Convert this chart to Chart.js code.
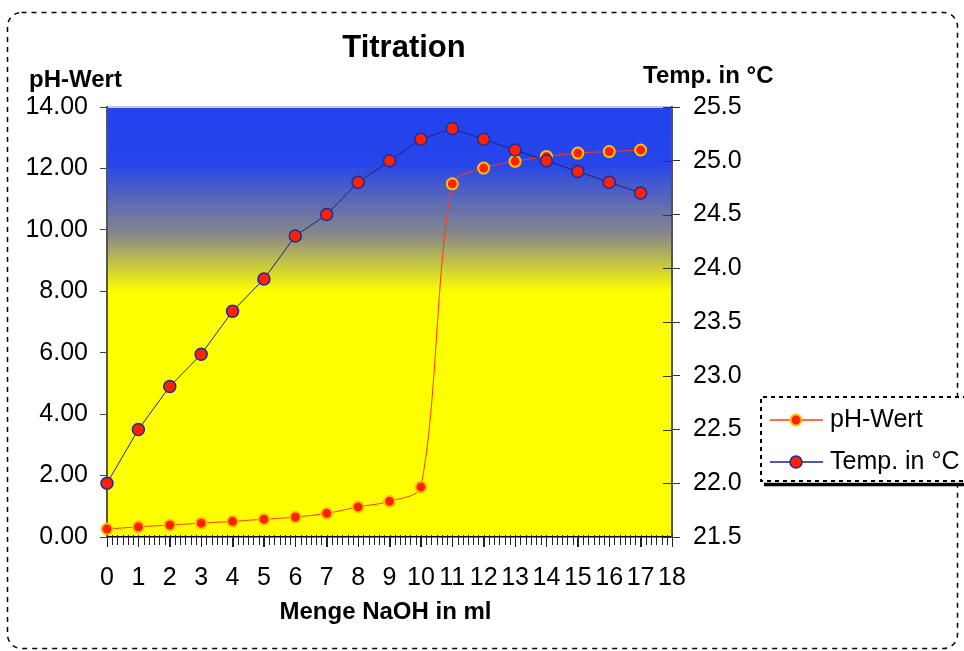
<!DOCTYPE html>
<html>
<head>
<meta charset="utf-8">
<title>Titration</title>
<script src="https://cdn.jsdelivr.net/npm/chart.js@4.4.0/dist/chart.umd.min.js"></script>
<style>
  html, body { margin: 0; padding: 0; background: #fff; }
  canvas { display: block; }
</style>
</head>
<body>
<canvas id="titrationChart" width="964" height="651" style="width:964px;height:651px"></canvas>
<script>
const mengeNaOH = [0, 1, 2, 3, 4, 5, 6, 7, 8, 9, 10, 11, 12, 13, 14, 15, 16, 17];
const phWerte = [0.26, 0.33, 0.39, 0.45, 0.51, 0.58, 0.65, 0.77, 0.98, 1.16, 1.63,
	11.50, 12.01, 12.23, 12.39, 12.50, 12.55, 12.60];
const tempWerte = [22.0, 22.5, 22.9, 23.2, 23.6, 23.9, 24.3, 24.5, 24.8, 25.0, 25.2,
	25.3, 25.2, 25.1, 25.0, 24.9, 24.8, 24.7];

const seriesNames = ["pH-Wert", "Temp. in °C"];
const xRange = [0, 18];
const phRange = [0, 14];
const tempRange = [21.5, 25.5];
const minorPerUnit = 6;

const FONT = '"Liberation Sans", Arial, sans-serif';

function toPoints(xs, ys) {
	return xs.map((x, i) => ({ x: x, y: ys[i] }));
}

// Hintergrund: Farbverlauf im Diagrammbereich und gestrichelter Rahmen
const backgroundPlugin = {
	id: "background",
	beforeDraw(chart) {
		const { ctx, chartArea: a } = chart;
		ctx.save();
		ctx.fillStyle = "#fff";
		ctx.fillRect(0, 0, chart.width, chart.height);

		const grad = ctx.createLinearGradient(0, a.top, 0, a.bottom);
		grad.addColorStop(0, "#2442ee");
		grad.addColorStop(0.13, "#2645ea");
		grad.addColorStop(0.3, "#8a8a86");
		grad.addColorStop(0.43, "#ffff00");
		grad.addColorStop(1, "#ffff00");
		ctx.fillStyle = grad;
		ctx.fillRect(a.left, a.top, a.right - a.left, a.bottom - a.top);

		// obere Kante
		ctx.strokeStyle = "#c8c8c8";
		ctx.lineWidth = 2;
		ctx.beginPath();
		ctx.moveTo(a.left, a.top);
		ctx.lineTo(a.right, a.top);
		ctx.stroke();

		// äußerer Rahmen
		ctx.strokeStyle = "#000";
		ctx.lineWidth = 1.5;
		ctx.setLineDash([5, 5]);
		ctx.beginPath();
		ctx.roundRect(7.5, 12.5, 950, 636, 14);
		ctx.stroke();
		ctx.restore();
	},
};

// Zusatz: Hilfsstriche, Achsentitel, Titel und Legende
const overlayPlugin = {
	id: "overlay",
	afterDraw(chart) {
		const { ctx, chartArea: a } = chart;
		const xs = chart.scales.x;
		const y2 = chart.scales.y2;
		ctx.save();

		// Hilfsstriche an der x-Achse
		ctx.strokeStyle = "#222";
		ctx.lineWidth = 1;
		for (let k = xRange[0] * minorPerUnit; k <= xRange[1] * minorPerUnit; k++) {
			const px = Math.round(xs.getPixelForValue(k / minorPerUnit)) + 0.5;
			ctx.beginPath();
			ctx.moveTo(px, a.bottom - 2);
			ctx.lineTo(px, a.bottom + (k % minorPerUnit === 0 ? 10 : 8));
			ctx.stroke();
		}

		// Striche der rechten Achse auch nach innen
		ctx.strokeStyle = "#333";
		y2.ticks.forEach((t) => {
			const py = Math.round(y2.getPixelForValue(t.value)) + 0.5;
			ctx.beginPath();
			ctx.moveTo(a.right - 9, py);
			ctx.lineTo(a.right, py);
			ctx.stroke();
		});

		// Texte
		ctx.fillStyle = "#000";
		ctx.textBaseline = "alphabetic";
		ctx.font = "bold 31px " + FONT;
		ctx.textAlign = "center";
		ctx.fillText("Titration", 404, 57);

		ctx.font = "bold 24px " + FONT;
		ctx.textAlign = "left";
		ctx.fillText(seriesNames[0], 29, 87);
		ctx.fillText(seriesNames[1], 643, 83);
		ctx.textAlign = "center";
		ctx.fillText("Menge NaOH in ml", (a.left + a.right) / 2 - 4, 619);

		// Legende
		const lx = 761, ly = 397, lb = 481;
		ctx.fillStyle = "#fff";
		ctx.fillRect(lx, ly, 220, lb - ly);
		ctx.strokeStyle = "#000";
		ctx.lineWidth = 2;
		ctx.setLineDash([4, 4]);
		ctx.beginPath();
		ctx.moveTo(975, ly);
		ctx.lineTo(lx, ly);
		ctx.lineTo(lx, lb);
		ctx.lineTo(975, lb);
		ctx.stroke();
		ctx.setLineDash([]);
		ctx.lineWidth = 3.5;
		ctx.beginPath();
		ctx.moveTo(764, lb + 3.5);
		ctx.lineTo(975, lb + 3.5);
		ctx.stroke();

		const rows = [420, 462];
		chart.data.datasets.forEach((ds, i) => {
			const ry = rows[i];
			ctx.strokeStyle = ds.borderColor;
			ctx.lineWidth = 1.5;
			ctx.beginPath();
			ctx.moveTo(770, ry);
			ctx.lineTo(823, ry);
			ctx.stroke();
			ctx.fillStyle = ds.pointBackgroundColor;
			ctx.strokeStyle = ds.pointBorderColor;
			ctx.lineWidth = ds.pointBorderWidth;
			ctx.beginPath();
			ctx.arc(796, ry, ds.pointRadius, 0, Math.PI * 2);
			ctx.fill();
			ctx.stroke();
			ctx.fillStyle = "#000";
			ctx.font = "25px " + FONT;
			ctx.textAlign = "left";
			ctx.textBaseline = "middle";
			ctx.fillText(ds.label, 830, ry);
		});
		ctx.restore();
	},
};

const tickFont = { family: FONT, size: 25 };

const ctx = document.getElementById("titrationChart").getContext("2d");
const titrationChart = new Chart(ctx, {
	type: "line",
	data: {
		datasets: [
			{
				label: seriesNames[0],
				data: toPoints(mengeNaOH, phWerte),
				yAxisID: "y",
				borderColor: "#ff3a10",
				borderWidth: 1,
				tension: 0.3,
				pointRadius: 5.5,
				pointBackgroundColor: "#ff2200",
				pointBorderColor: "#ffc400",
				pointBorderWidth: 2,
				clip: false,
				order: 1,
			},
			{
				label: seriesNames[1],
				data: toPoints(mengeNaOH, tempWerte),
				yAxisID: "y2",
				borderColor: "#1a2480",
				borderWidth: 1,
				tension: 0,
				pointRadius: 6,
				pointBackgroundColor: "#ff2200",
				pointBorderColor: "#1c2ca0",
				pointBorderWidth: 1.5,
				clip: false,
				order: 0,
			},
		],
	},
	options: {
		responsive: false,
		animation: false,
		devicePixelRatio: 1,
		layout: { padding: { top: 107, left: 0, right: 0, bottom: 0 } },
		plugins: {
			legend: { display: false },
			title: { display: false },
			tooltip: { enabled: false },
		},
		scales: {
			x: {
				type: "linear",
				position: "bottom",
				min: xRange[0],
				max: xRange[1],
				ticks: {
					stepSize: 1,
					autoSkip: false,
					maxRotation: 0,
					color: "#000",
					font: tickFont,
					padding: 16,
				},
				grid: { drawOnChartArea: false, drawTicks: true, tickLength: 10, color: "#222" },
				border: { color: "#000", width: 1.5 },
				afterFit(scale) {
					scale.height = 114;
				},
			},
			y: {
				position: "left",
				min: phRange[0],
				max: phRange[1],
				ticks: {
					stepSize: 2,
					color: "#000",
					font: tickFont,
					padding: 12,
					callback: (v) => v.toFixed(2),
				},
				grid: { drawOnChartArea: false, tickLength: 7, color: "#444" },
				border: { color: "#555", width: 2 },
				afterFit(scale) {
					scale.width = 107;
				},
			},
			y2: {
				position: "right",
				min: tempRange[0],
				max: tempRange[1],
				ticks: {
					stepSize: 0.5,
					color: "#000",
					font: tickFont,
					padding: 13,
					callback: (v) => v.toFixed(1),
				},
				grid: { drawOnChartArea: false, tickLength: 8, color: "#333" },
				border: { color: "#555", width: 2 },
				afterFit(scale) {
					scale.width = 292;
				},
			},
		},
	},
	plugins: [backgroundPlugin, overlayPlugin],
});
</script>
</body>
</html>
